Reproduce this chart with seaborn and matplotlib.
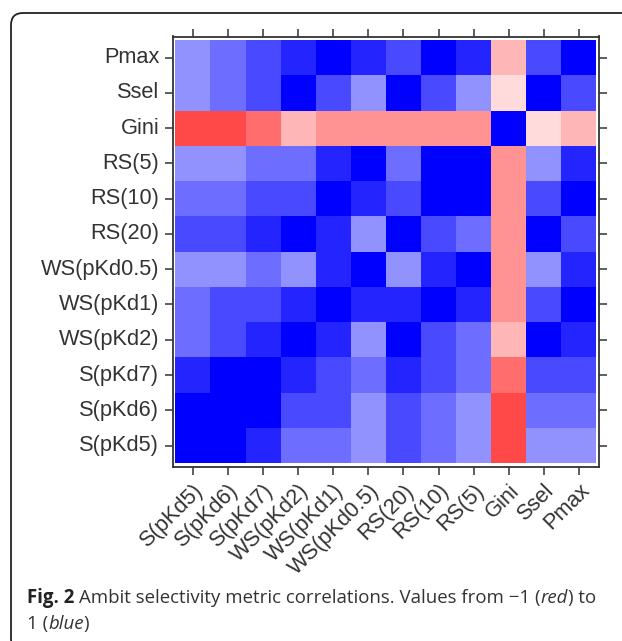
import numpy as np
import pandas as pd
import seaborn as sns
import matplotlib
matplotlib.use("Agg")
import matplotlib.pyplot as plt
from matplotlib.colors import LinearSegmentedColormap
from matplotlib.patches import FancyBboxPatch
from matplotlib.transforms import IdentityTransform

# ---- data -------------------------------------------------------------
metrics = ["S(pKd5)", "S(pKd6)", "S(pKd7)", "WS(pKd2)", "WS(pKd1)", "WS(pKd0.5)",
           "RS(20)", "RS(10)", "RS(5)", "Gini", "Ssel", "Pmax"]

r_S5   = [1.00, 0.92, 0.80, 0.53, 0.53, 0.40, 0.67, 0.53, 0.40, -0.67, 0.40, 0.40]
r_S6   = [0.92, 1.00, 0.92, 0.67, 0.67, 0.40, 0.67, 0.53, 0.40, -0.67, 0.53, 0.53]
r_S7   = [0.80, 0.92, 1.00, 0.80, 0.67, 0.53, 0.80, 0.67, 0.53, -0.53, 0.67, 0.67]
r_WS2  = [0.53, 0.67, 0.80, 1.00, 0.80, 0.40, 0.92, 0.67, 0.53, -0.27, 0.92, 0.80]
r_WS1  = [0.53, 0.67, 0.67, 0.80, 1.00, 0.80, 0.80, 0.92, 0.80, -0.40, 0.67, 0.92]
r_WS05 = [0.40, 0.40, 0.53, 0.40, 0.80, 1.00, 0.40, 0.80, 0.92, -0.40, 0.40, 0.80]
r_RS20 = [0.67, 0.67, 0.80, 0.92, 0.80, 0.40, 1.00, 0.67, 0.53, -0.40, 0.92, 0.67]
r_RS10 = [0.53, 0.53, 0.67, 0.67, 0.92, 0.80, 0.67, 1.00, 0.92, -0.40, 0.67, 0.92]
r_RS5  = [0.40, 0.40, 0.53, 0.53, 0.80, 0.92, 0.53, 0.92, 1.00, -0.40, 0.40, 0.80]
r_Gini = [-0.67, -0.67, -0.53, -0.27, -0.40, -0.40, -0.40, -0.40, -0.40, 1.00, -0.13, -0.27]
r_Ssel = [0.40, 0.53, 0.67, 0.92, 0.67, 0.40, 0.92, 0.67, 0.40, -0.13, 1.00, 0.67]
r_Pmax = [0.40, 0.53, 0.67, 0.80, 0.92, 0.80, 0.67, 0.92, 0.80, -0.27, 0.67, 1.00]

rows = [r_S5, r_S6, r_S7, r_WS2, r_WS1, r_WS05, r_RS20, r_RS10, r_RS5, r_Gini, r_Ssel, r_Pmax]
corr = pd.DataFrame(rows, index=metrics, columns=metrics)

caption_line1 = [("Fig. 2", "bold", "normal"),
                 (" Ambit selectivity metric correlations. Values from \u22121 (", "normal", "normal"),
                 ("red", "normal", "italic"),
                 (") to", "normal", "normal")]
caption_line2 = [("1 (", "normal", "normal"),
                 ("blue", "normal", "italic"),
                 (")", "normal", "normal")]

# ---- figure -----------------------------------------------------------
W, H = 622, 641
sns.set_theme(style="white")
plt.rcParams['font.family'] = ['Liberation Sans', 'DejaVu Sans']

fig = plt.figure(figsize=(W / 100, H / 100), dpi=100)
fig.patch.set_facecolor("white")

# outer rounded frame (only top/left visible)
frame = FancyBboxPatch((11, -10), 700, H - 13 + 10,
                       boxstyle="round,pad=0,rounding_size=12",
                       transform=IdentityTransform(), fill=False,
                       edgecolor="#222222", linewidth=1.3)
fig.patches.append(frame)

left_px, right_px, top_px, bot_px = 172.5, 599.3, 36.5, 466.7
ax = fig.add_axes([left_px / W, 1 - bot_px / H,
                   (right_px - left_px) / W, (bot_px - top_px) / H])

cmap = LinearSegmentedColormap.from_list("rwb", ["#FF0000", "#FFFFFF", "#0000FF"], N=15)
sns.heatmap(corr, ax=ax, cmap=cmap, vmin=-1, vmax=1, cbar=False,
            linewidths=0, xticklabels=metrics, yticklabels=metrics)

ax.set_xlim(-0.08, 12.08)
ax.set_ylim(-0.1, 12.1)
ax.set_xlabel("")
ax.set_ylabel("")

for s in ax.spines.values():
    s.set_visible(True)
    s.set_color("#333333")
    s.set_linewidth(1.3)

ax.tick_params(axis="both", direction="out", length=6, width=1.1, color="#333333",
               labelsize=15.7, labelcolor="#333333", pad=3.5,
               bottom=True, left=True, top=True, right=True,
               labeltop=False, labelright=False)

for lbl in ax.get_yticklabels():
    lbl.set_rotation(0)
for lbl in ax.get_xticklabels():
    lbl.set_rotation(45)
    lbl.set_ha("right")
    lbl.set_va("top")
    lbl.set_rotation_mode("anchor")

# ---- caption ----------------------------------------------------------
cap_size = 13.4
cap_font = ["Open Sans", "DejaVu Sans"]
fig.canvas.draw()
renderer = fig.canvas.get_renderer()

def place_line(pieces, x0, y_base):
    x = x0
    for txt, weight, style in pieces:
        lead = 0.0
        if txt.startswith(" "):
            probe1 = fig.text(0, 0, "a a", fontsize=cap_size, family=cap_font,
                              transform=IdentityTransform())
            probe2 = fig.text(0, 0, "aa", fontsize=cap_size, family=cap_font,
                              transform=IdentityTransform())
            lead = (probe1.get_window_extent(renderer).width -
                    probe2.get_window_extent(renderer).width)
            probe1.remove(); probe2.remove()
            txt = txt.lstrip(" ")
        x += lead
        t = fig.text(x, y_base, txt, fontsize=cap_size, family=cap_font,
                     fontweight=weight, fontstyle=style,
                     color="#222222" if weight == "bold" else "#333333",
                     va="baseline", ha="left", transform=IdentityTransform())
        x += t.get_window_extent(renderer).width

place_line(caption_line1, 27, H - 603)
place_line(caption_line2, 27, H - 629)

fig.savefig("out.png", dpi=100, facecolor="white")
